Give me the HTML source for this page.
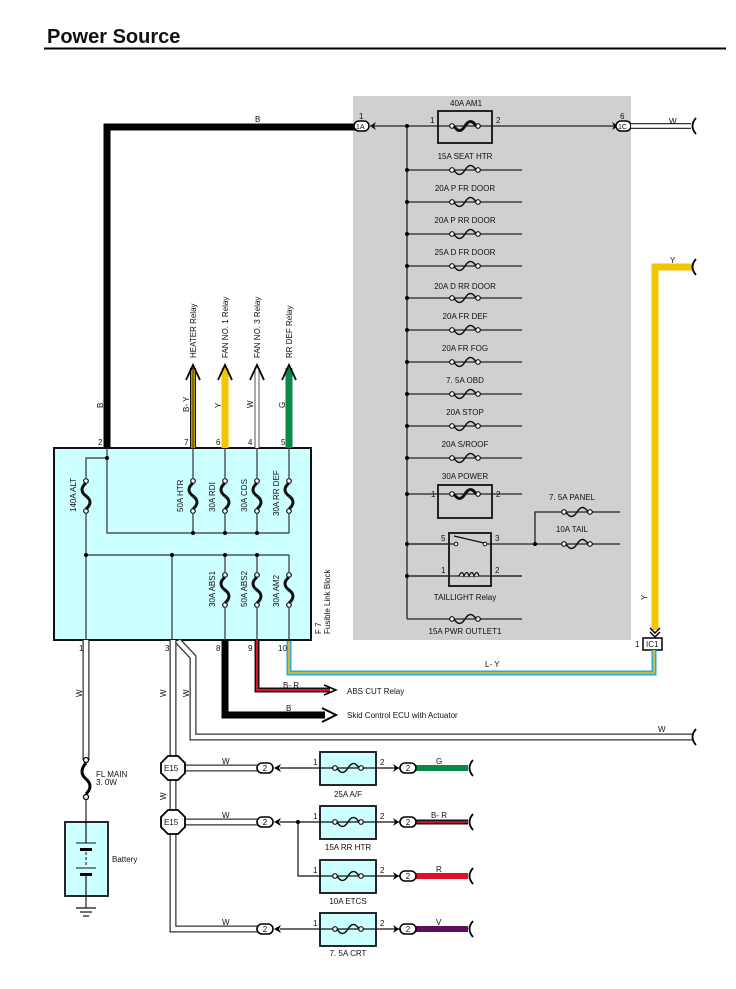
<!DOCTYPE html>
<html><head><meta charset="utf-8"><style>
html,body{margin:0;padding:0;background:#fff;}
svg{display:block;}
text{font-family:"Liberation Sans",Arial,sans-serif;font-size:8px;fill:#111;}
</style></head><body>
<svg width="736" height="989" viewBox="0 0 736 989" xmlns="http://www.w3.org/2000/svg">
<defs>
<g id="fh"><circle cx="-13" cy="0" r="2.3" fill="#fff" stroke="#111" stroke-width="1.2"/><circle cx="13" cy="0" r="2.3" fill="#fff" stroke="#111" stroke-width="1.2"/><path d="M-11,0 Q-5.5,9 0,0 Q5.5,-9 11,0" fill="none" stroke="#111" stroke-width="1.5"/></g>
<g id="fhb"><circle cx="-13" cy="0" r="2.3" fill="#fff" stroke="#111" stroke-width="1.2"/><circle cx="13" cy="0" r="2.3" fill="#fff" stroke="#111" stroke-width="1.2"/><path d="M-11,0 Q-5.5,9 0,0 Q5.5,-9 11,0" fill="none" stroke="#111" stroke-width="3"/></g>
<g id="fv"><circle cx="0" cy="-15" r="2.3" fill="#fff" stroke="#111" stroke-width="1.2"/><circle cx="0" cy="15" r="2.3" fill="#fff" stroke="#111" stroke-width="1.2"/><path d="M0,-13 Q-8,-6 0,0 Q8,6 0,13" fill="none" stroke="#111" stroke-width="3"/></g>
</defs>

<text x="47" y="43" style="font-size:20px;font-weight:bold;">Power Source</text>
<line x1="44" y1="48.5" x2="726" y2="48.5" stroke="#000" stroke-width="2"/>

<rect x="353" y="96" width="278" height="544" fill="#d0d0d0"/>

<path d="M107,448 V127 H356" fill="none" stroke="#000" stroke-width="7"/>
<text x="255" y="122">B</text>
<text x="0" y="0" transform="translate(103,408) rotate(-90)">B</text>
<text x="359" y="119">1</text>
<rect x="354" y="121" width="15" height="10" rx="5" fill="#fff" stroke="#000" stroke-width="1.5"/>
<text x="356" y="129" style="font-size:7px">1A</text>
<path d="M370,126 L376,122 L374,126 L376,130 Z" fill="#000"/>
<line x1="370" y1="126" x2="616" y2="126" stroke="#222" stroke-width="1.3"/>
<line x1="407" y1="126" x2="407" y2="619" stroke="#222" stroke-width="1.3"/>
<circle cx="407" cy="126" r="2" fill="#000"/>
<rect x="438" y="111" width="54" height="32" fill="#d0d0d0" stroke="#111" stroke-width="1.8"/>
<line x1="438" y1="126" x2="492" y2="126" stroke="#222" stroke-width="1.3"/>
<use href="#fhb" x="465" y="126"/>
<text x="450" y="106">40A AM1</text>
<text x="430" y="123">1</text><text x="496" y="123">2</text>
<path d="M612,122 L618,126 L612,130 L614,126 Z" fill="#000"/>
<text x="620" y="119">6</text>
<rect x="616" y="121" width="15" height="10" rx="5" fill="#fff" stroke="#000" stroke-width="1.5"/>
<text x="618" y="129" style="font-size:7px">1C</text>
<path d="M631,126 H691" stroke="#333" stroke-width="6"/><path d="M631,126 H691" stroke="#fff" stroke-width="3.5"/>
<text x="669" y="124">W</text>
<path d="M696,118 Q689,126 696,134" fill="none" stroke="#000" stroke-width="1.8"/>

<g stroke="#222" stroke-width="1.3">
<line x1="407" y1="170" x2="522" y2="170"/><line x1="407" y1="202" x2="522" y2="202"/>
<line x1="407" y1="234" x2="522" y2="234"/><line x1="407" y1="266" x2="522" y2="266"/>
<line x1="407" y1="298" x2="522" y2="298"/><line x1="407" y1="330" x2="522" y2="330"/>
<line x1="407" y1="362" x2="522" y2="362"/><line x1="407" y1="394" x2="522" y2="394"/>
<line x1="407" y1="426" x2="522" y2="426"/><line x1="407" y1="458" x2="522" y2="458"/>
<line x1="407" y1="494" x2="522" y2="494"/><line x1="407" y1="544" x2="620" y2="544"/>
<line x1="407" y1="576" x2="522" y2="576"/><line x1="407" y1="619" x2="522" y2="619"/>
<path d="M535,544 V512 H620" fill="none"/>
</g>
<g fill="#000">
<circle cx="407" cy="170" r="2"/><circle cx="407" cy="202" r="2"/><circle cx="407" cy="234" r="2"/><circle cx="407" cy="266" r="2"/><circle cx="407" cy="298" r="2"/><circle cx="407" cy="330" r="2"/><circle cx="407" cy="362" r="2"/><circle cx="407" cy="394" r="2"/><circle cx="407" cy="426" r="2"/><circle cx="407" cy="458" r="2"/><circle cx="407" cy="494" r="2"/><circle cx="407" cy="544" r="2"/><circle cx="407" cy="576" r="2"/><circle cx="535" cy="544" r="2"/>
</g>
<g>
<use href="#fh" x="465" y="170"/><use href="#fh" x="465" y="202"/><use href="#fh" x="465" y="234"/><use href="#fh" x="465" y="266"/><use href="#fh" x="465" y="298"/><use href="#fh" x="465" y="330"/><use href="#fh" x="465" y="362"/><use href="#fh" x="465" y="394"/><use href="#fh" x="465" y="426"/><use href="#fh" x="465" y="458"/><use href="#fh" x="465" y="619"/>
<use href="#fh" x="577" y="512"/><use href="#fh" x="577" y="544"/>
</g>
<g text-anchor="middle">
<text x="465" y="159">15A SEAT HTR</text><text x="465" y="191">20A P FR DOOR</text><text x="465" y="223">20A P RR DOOR</text><text x="465" y="255">25A D FR DOOR</text><text x="465" y="289">20A D RR DOOR</text><text x="465" y="319">20A FR DEF</text><text x="465" y="351">20A FR FOG</text><text x="465" y="383">7. 5A OBD</text><text x="465" y="415">20A STOP</text><text x="465" y="447">20A S/ROOF</text><text x="465" y="479">30A POWER</text><text x="465" y="600">TAILLIGHT Relay</text><text x="465" y="634">15A PWR OUTLET1</text><text x="572" y="500">7. 5A PANEL</text><text x="572" y="532">10A TAIL</text>
</g>
<rect x="438" y="485" width="54" height="33" fill="#d0d0d0" stroke="#111" stroke-width="1.8"/>
<line x1="438" y1="494" x2="492" y2="494" stroke="#222" stroke-width="1.3"/>
<use href="#fhb" x="465" y="494"/>
<text x="431" y="497">1</text><text x="496" y="497">2</text>
<rect x="449" y="533" width="42" height="53" fill="#d0d0d0" stroke="#111" stroke-width="1.8"/>
<line x1="407" y1="544" x2="456" y2="544" stroke="#222" stroke-width="1.3"/>
<line x1="485" y1="544" x2="491" y2="544" stroke="#222" stroke-width="1.3"/>
<line x1="407" y1="576" x2="522" y2="576" stroke="#222" stroke-width="1.3"/>
<circle cx="456" cy="544" r="1.8" fill="#fff" stroke="#111"/><circle cx="485" cy="544" r="1.8" fill="#fff" stroke="#111"/>
<line x1="454" y1="536" x2="484" y2="543" stroke="#111" stroke-width="1.3"/>
<path d="M459,576 q3,-7 5,0 q3,-7 5,0 q3,-7 5,0 q3,-7 5,0" fill="#d0d0d0" stroke="#111" stroke-width="1.3"/>
<text x="441" y="541">5</text><text x="495" y="541">3</text><text x="441" y="573">1</text><text x="495" y="573">2</text>

<path d="M692,267 H655 V630" fill="none" stroke="#f5c400" stroke-width="7"/>
<text x="670" y="263">Y</text>
<path d="M696,259 Q689,267 696,275" fill="none" stroke="#000" stroke-width="1.8"/>
<text x="0" y="0" transform="translate(647,600) rotate(-90)">Y</text>
<path d="M650,628 L655,633 L660,628 M650,632 L655,637 L660,632" fill="none" stroke="#000" stroke-width="1.5"/>
<rect x="643" y="638" width="19" height="12" fill="#fff" stroke="#000" stroke-width="1.5"/>
<text x="646" y="647">IC1</text>
<text x="635" y="647">1</text>
<path d="M289,640 V673 H654 V650" fill="none" stroke="#29a8e0" stroke-width="5"/>
<path d="M289,640 V673 H654 V650" fill="none" stroke="#f5c400" stroke-width="1.6"/>
<text x="485" y="667">L- Y</text>

<rect x="54" y="448" width="257" height="192" fill="#ccffff" stroke="#111" stroke-width="2"/>
<g stroke="#333" stroke-width="1.2" fill="none">
<path d="M107,458 H86 V640"/><path d="M107,448 V533 H289"/>
<line x1="193" y1="448" x2="193" y2="533"/><line x1="225" y1="448" x2="225" y2="533"/><line x1="257" y1="448" x2="257" y2="533"/><line x1="289" y1="448" x2="289" y2="533"/>
<path d="M86,555 H289"/><line x1="172" y1="555" x2="172" y2="640"/>
<line x1="225" y1="555" x2="225" y2="640"/><line x1="257" y1="555" x2="257" y2="640"/><line x1="289" y1="555" x2="289" y2="640"/>
</g>
<g fill="#000"><circle cx="107" cy="458" r="2"/><circle cx="193" cy="533" r="2"/><circle cx="225" cy="533" r="2"/><circle cx="257" cy="533" r="2"/><circle cx="86" cy="555" r="2"/><circle cx="172" cy="555" r="2"/><circle cx="225" cy="555" r="2"/><circle cx="257" cy="555" r="2"/></g>
<g>
<rect x="80" y="478" width="12" height="36" fill="#ccffff"/><use href="#fv" x="86" y="496"/>
<rect x="187" y="478" width="12" height="36" fill="#ccffff"/><use href="#fv" x="193" y="496"/>
<rect x="219" y="478" width="12" height="36" fill="#ccffff"/><use href="#fv" x="225" y="496"/>
<rect x="251" y="478" width="12" height="36" fill="#ccffff"/><use href="#fv" x="257" y="496"/>
<rect x="283" y="478" width="12" height="36" fill="#ccffff"/><use href="#fv" x="289" y="496"/>
<rect x="219" y="572" width="12" height="36" fill="#ccffff"/><use href="#fv" x="225" y="590"/>
<rect x="251" y="572" width="12" height="36" fill="#ccffff"/><use href="#fv" x="257" y="590"/>
<rect x="283" y="572" width="12" height="36" fill="#ccffff"/><use href="#fv" x="289" y="590"/>
</g>
<g>
<text transform="translate(76,512) rotate(-90)">140A ALT</text>
<text transform="translate(183,512) rotate(-90)">50A HTR</text>
<text transform="translate(215,512) rotate(-90)">30A RDI</text>
<text transform="translate(247,512) rotate(-90)">30A CDS</text>
<text transform="translate(279,516) rotate(-90)">30A RR DEF</text>
<text transform="translate(215,607) rotate(-90)">30A ABS1</text>
<text transform="translate(247,607) rotate(-90)">50A ABS2</text>
<text transform="translate(279,607) rotate(-90)">30A AM2</text>
<text transform="translate(321,634) rotate(-90)">F 7</text>
<text transform="translate(330,634) rotate(-90)">Fusible Link Block</text>
</g>
<text x="98" y="445">2</text><text x="184" y="445">7</text><text x="216" y="445">6</text><text x="248" y="445">4</text><text x="281" y="445">5</text>
<text x="79" y="651">1</text><text x="165" y="651">3</text><text x="216" y="651">8</text><text x="248" y="651">9</text><text x="278" y="651">10</text>

<path d="M193,448 V368" stroke="#111" stroke-width="6"/><path d="M193,448 V368" stroke="#f5c400" stroke-width="3.5"/><path d="M193,448 V368" stroke="#111" stroke-width="1"/>
<path d="M225,448 V368" stroke="#f5c400" stroke-width="7"/>
<path d="M257,448 V368" stroke="#555" stroke-width="5"/><path d="M257,448 V368" stroke="#fff" stroke-width="3"/>
<path d="M289,448 V368" stroke="#078a4a" stroke-width="7"/>
<g fill="none" stroke="#000" stroke-width="1.8"><path d="M186,380 L193,365 L200,380"/><path d="M218,380 L225,365 L232,380"/><path d="M250,380 L257,365 L264,380"/><path d="M282,380 L289,365 L296,380"/></g>
<text transform="translate(196,358) rotate(-90)">HEATER Relay</text>
<text transform="translate(228,358) rotate(-90)">FAN NO. 1 Relay</text>
<text transform="translate(260,358) rotate(-90)">FAN NO. 3 Relay</text>
<text transform="translate(292,358) rotate(-90)">RR DEF Relay</text>
<text transform="translate(189,412) rotate(-90)">B- Y</text>
<text transform="translate(221,408) rotate(-90)">Y</text>
<text transform="translate(253,408) rotate(-90)">W</text>
<text transform="translate(285,408) rotate(-90)">G</text>

<path d="M225,640 V715 H325" fill="none" stroke="#000" stroke-width="7"/>
<path d="M322,708 L336,715 L322,722" fill="none" stroke="#000" stroke-width="2"/>
<text x="286" y="711">B</text><text x="347" y="718">Skid Control ECU with Actuator</text>
<path d="M257,640 V690 H330" fill="none" stroke="#111" stroke-width="5"/>
<path d="M257,640 V690 H330" fill="none" stroke="#e0102a" stroke-width="2"/>
<path d="M324,685 L336,690 L324,695" fill="none" stroke="#000" stroke-width="1.5"/>
<text x="283" y="688">B- R</text><text x="347" y="694">ABS CUT Relay</text>
<g fill="none" stroke-linejoin="miter">
<path d="M178,641 L193,657 V737 H692" stroke="#333" stroke-width="7"/><path d="M178,641 L193,657 V737 H692" stroke="#fff" stroke-width="4.5"/>
<path d="M86,640 V760" stroke="#333" stroke-width="7"/><path d="M86,640 V760" stroke="#fff" stroke-width="4.5"/>
<path d="M173,640 V929 H258" stroke="#333" stroke-width="7"/><path d="M173,640 V929 H258" stroke="#fff" stroke-width="4.5"/>
<path d="M173,768 H258 M173,822 H258" stroke="#333" stroke-width="7"/><path d="M173,768 H258 M173,822 H258" stroke="#fff" stroke-width="4.5"/>
</g>
<text x="658" y="732">W</text>
<path d="M696,729 Q689,737 696,745" fill="none" stroke="#000" stroke-width="1.8"/>
<text transform="translate(82,697) rotate(-90)">W</text>
<text transform="translate(166,697) rotate(-90)">W</text>
<text transform="translate(189,697) rotate(-90)">W</text>
<text transform="translate(166,800) rotate(-90)">W</text>
<g>
<polygon points="168,756 178,756 185,763 185,773 178,780 168,780 161,773 161,763" fill="#fff" stroke="#000" stroke-width="1.8"/>
<polygon points="168,810 178,810 185,817 185,827 178,834 168,834 161,827 161,817" fill="#fff" stroke="#000" stroke-width="1.8"/>
<text x="164" y="771">E15</text><text x="164" y="825">E15</text>
</g>
<circle cx="86" cy="760" r="2.5" fill="#fff" stroke="#000" stroke-width="1.3"/>
<circle cx="86" cy="797" r="2.5" fill="#fff" stroke="#000" stroke-width="1.3"/>
<path d="M86,763 Q78,772 86,779 Q94,786 86,794" fill="none" stroke="#000" stroke-width="3"/>
<text x="96" y="777">FL MAIN</text><text x="96" y="785">3. 0W</text>
<line x1="86" y1="800" x2="86" y2="908" stroke="#222" stroke-width="1.2"/>
<rect x="65" y="822" width="43" height="74" fill="#ccffff" stroke="#111" stroke-width="1.8"/>
<rect x="80" y="832" width="12" height="40" fill="#ccffff"/>
<line x1="86" y1="822" x2="86" y2="843" stroke="#111" stroke-width="1.2"/>
<line x1="76" y1="843" x2="96" y2="843" stroke="#111" stroke-width="1"/>
<rect x="80" y="848" width="12" height="3" fill="#000"/>
<line x1="86" y1="852" x2="86" y2="866" stroke="#111" stroke-width="1" stroke-dasharray="3,2"/>
<line x1="76" y1="868" x2="96" y2="868" stroke="#111" stroke-width="1"/>
<rect x="80" y="873" width="12" height="3" fill="#000"/>
<line x1="86" y1="876" x2="86" y2="896" stroke="#111" stroke-width="1.2"/>
<text x="112" y="862">Battery</text>
<line x1="76" y1="908" x2="96" y2="908" stroke="#111" stroke-width="1.2"/>
<line x1="80" y1="912" x2="92" y2="912" stroke="#111" stroke-width="1.2"/>
<line x1="83" y1="916" x2="89" y2="916" stroke="#111" stroke-width="1.2"/>

<g>
<line x1="280" y1="768" x2="402" y2="768" stroke="#111" stroke-width="1.2"/>
<line x1="280" y1="822" x2="402" y2="822" stroke="#111" stroke-width="1.2"/>
<path d="M298,822 V876 H402" fill="none" stroke="#111" stroke-width="1.2"/>
<line x1="280" y1="929" x2="402" y2="929" stroke="#111" stroke-width="1.2"/>
<circle cx="298" cy="822" r="2" fill="#000"/>
</g>
<g stroke="#111" stroke-width="1.8" fill="#ccffff">
<rect x="320" y="752" width="56" height="33"/><rect x="320" y="806" width="56" height="33"/><rect x="320" y="860" width="56" height="33"/><rect x="320" y="913" width="56" height="33"/>
</g>
<line x1="320" y1="768" x2="376" y2="768" stroke="#111" stroke-width="1.2"/>
<line x1="320" y1="822" x2="376" y2="822" stroke="#111" stroke-width="1.2"/>
<line x1="320" y1="876" x2="376" y2="876" stroke="#111" stroke-width="1.2"/>
<line x1="320" y1="929" x2="376" y2="929" stroke="#111" stroke-width="1.2"/>
<use href="#fh" x="348" y="768"/><use href="#fh" x="348" y="822"/><use href="#fh" x="348" y="876"/><use href="#fh" x="348" y="929"/>
<g text-anchor="middle">
<text x="348" y="797">25A A/F</text><text x="348" y="850">15A RR HTR</text><text x="348" y="904">10A ETCS</text><text x="348" y="956">7. 5A CRT</text>
</g>
<g>
<text x="313" y="765">1</text><text x="380" y="765">2</text><text x="313" y="819">1</text><text x="380" y="819">2</text>
<text x="313" y="873">1</text><text x="380" y="873">2</text><text x="313" y="926">1</text><text x="380" y="926">2</text>
<text x="222" y="764">W</text><text x="222" y="818">W</text><text x="222" y="925">W</text>
</g>
<path d="M415,768 H468" stroke="#078a4a" stroke-width="6"/>
<path d="M415,822 H468" stroke="#111" stroke-width="5"/><path d="M415,822 H468" stroke="#e0102a" stroke-width="1.8"/>
<path d="M415,876 H468" stroke="#e0102a" stroke-width="6"/>
<path d="M415,929 H468" stroke="#5c0f5c" stroke-width="6"/>
<text x="436" y="764">G</text><text x="431" y="818">B- R</text><text x="436" y="872">R</text><text x="436" y="925">V</text>
<g fill="none" stroke="#000" stroke-width="1.8">
<path d="M473,760 Q466,768 473,776"/><path d="M473,814 Q466,822 473,830"/><path d="M473,868 Q466,876 473,884"/><path d="M473,921 Q466,929 473,937"/>
</g>
<g stroke="#000" stroke-width="1.6" fill="#fff">
<rect x="257" y="763" width="16" height="10" rx="5"/><rect x="257" y="817" width="16" height="10" rx="5"/><rect x="257" y="924" width="16" height="10" rx="5"/>
<rect x="400" y="763" width="16" height="10" rx="5"/><rect x="400" y="817" width="16" height="10" rx="5"/><rect x="400" y="871" width="16" height="10" rx="5"/><rect x="400" y="924" width="16" height="10" rx="5"/>
</g>
<g text-anchor="middle">
<text x="265" y="771">2</text><text x="265" y="825">2</text><text x="265" y="932">2</text>
<text x="408" y="771">2</text><text x="408" y="825">2</text><text x="408" y="879">2</text><text x="408" y="932">2</text>
</g>
<g fill="#000">
<path d="M274,768 L281,764 L279,768 L281,772 Z"/><path d="M274,822 L281,818 L279,822 L281,826 Z"/><path d="M274,929 L281,925 L279,929 L281,933 Z"/>
<path d="M393,764 L399,768 L393,772 L395,768 Z"/><path d="M393,818 L399,822 L393,826 L395,822 Z"/><path d="M393,872 L399,876 L393,880 L395,876 Z"/><path d="M393,925 L399,929 L393,933 L395,929 Z"/>
</g>
</svg>
</body></html>
